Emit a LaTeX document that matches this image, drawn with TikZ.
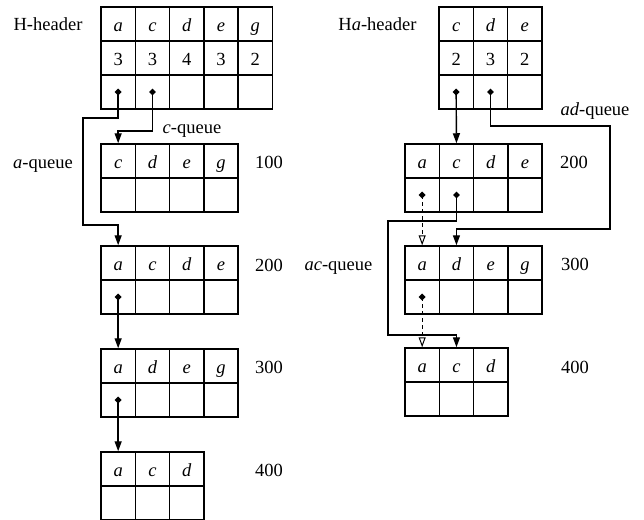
\documentclass[tikz,border=0pt]{standalone}
\usepackage{fontspec}
\setmainfont{Liberation Serif}
\usetikzlibrary{arrows.meta,shapes.geometric}
\newcommand\cellrow[4]{\foreach \celltext [count=\i] in {#4}{\node[cell] (#1-\i) at ({#2+(\i-0.5)*34.3},{#3+17}) {\celltext};}}
\begin{document}
\begin{tikzpicture}[x=1pt,y=-1pt,
  font=\fontsize{18.5}{22}\selectfont,
  cell/.style={draw,line width=1.5pt,rectangle,minimum width=34.3pt,minimum height=34pt,inner sep=0pt,text height=15.4pt,text depth=0pt},
  lbl/.style={anchor=base,inner sep=0pt},
  dot/.style={diamond,fill,inner sep=0pt,minimum size=7pt},
  conn/.style={line width=1.4pt,-{Triangle[width=7pt,length=10pt]}},
  dconn/.style={line width=1.3pt,dash pattern=on 4pt off 3pt,-{Triangle[open,width=7pt,length=10pt,line width=1pt]}}]
\useasboundingbox (0,0) rectangle (644,519);
% left side
\cellrow{hLa}{101}{7}{\textit{a},\textit{c},\textit{d},\textit{e},\textit{g}}
\cellrow{hLb}{101}{41}{3,3,4,3,2}
\cellrow{hLc}{101}{75}{{},{},{},{},{}}
\cellrow{lAa}{101}{144}{\textit{c},\textit{d},\textit{e},\textit{g}}
\cellrow{lAb}{101}{178}{{},{},{},{}}
\cellrow{lBa}{101}{246}{\textit{a},\textit{c},\textit{d},\textit{e}}
\cellrow{lBb}{101}{280}{{},{},{},{}}
\cellrow{lCa}{101}{349}{\textit{a},\textit{d},\textit{e},\textit{g}}
\cellrow{lCb}{101}{383}{{},{},{},{}}
\cellrow{lDa}{101}{452}{\textit{a},\textit{c},\textit{d}}
\cellrow{lDb}{101}{486}{{},{},{}}
% right side
\cellrow{hRa}{439}{7}{\textit{c},\textit{d},\textit{e}}
\cellrow{hRb}{439}{41}{2,3,2}
\cellrow{hRc}{439}{75}{{},{},{}}
\cellrow{rAa}{405}{144}{\textit{a},\textit{c},\textit{d},\textit{e}}
\cellrow{rAb}{405}{178}{{},{},{},{}}
\cellrow{rBa}{405}{246}{\textit{a},\textit{d},\textit{e},\textit{g}}
\cellrow{rBb}{405}{280}{{},{},{},{}}
\cellrow{rCa}{405}{348}{\textit{a},\textit{c},\textit{d}}
\cellrow{rCb}{405}{382}{{},{},{}}
% dots
\node[dot] (d1) at (hLc-1) {};
\node[dot] (d2) at (hLc-2) {};
\node[dot] (d3) at (lBb-1) {};
\node[dot] (d4) at (lCb-1) {};
\node[dot] (d5) at (hRc-1) {};
\node[dot] (d6) at (hRc-2) {};
\node[dot] (d7) at (rAb-1) {};
\node[dot] (d8) at (rAb-2) {};
\node[dot] (d9) at (rBb-1) {};
% bend points
\coordinate (a2) at (83,118);
\coordinate (a3) at (83,225);
\coordinate (c1) at (0,131);
\coordinate (e1) at (610,126);
\coordinate (e2) at (610,229);
\coordinate (f1) at (388,221);
\coordinate (f2) at (388,335);
% connectors
\draw[conn] (d1.center) -- (d1 |- a2) -- (a2) -- (a3) -- (a3 -| lBa-1) -- (lBa-1.north);
\draw[conn] (d2.center) -- (d2 |- c1) -- (c1 -| lAa-1) -- (lAa-1.north);
\draw[conn] (d3.center) -- (lCa-1.north);
\draw[conn] (d4.center) -- (lDa-1.north);
\draw[conn] (d5.center) -- (rAa-2.north);
\draw[conn] (d6.center) -- (d6 |- e1) -- (e1) -- (e2) -- (e2 -| rBa-2) -- (rBa-2.north);
\draw[dconn] (d7.center) -- (rBa-1.north);
\draw[conn] (d8.center) -- (d8 |- f1) -- (f1) -- (f2) -- (f2 -| rCa-2) -- (rCa-2.north);
\draw[dconn] (d9.center) -- (rCa-1.north);
% labels
\node[lbl] (tH) at (48,30.7) {H-header};
\node[lbl] (tCq) at (192,133) {\textit{c}-queue};
\node[lbl] (tAq) at (43,168) {\textit{a}-queue};
\node[lbl] (n100) at (269,168) {100};
\node[lbl] (n200) at (269,271.5) {200};
\node[lbl] (n300) at (269,373) {300};
\node[lbl] (n400) at (269,476) {400};
\node[lbl] (tHa) at (377.5,30.7) {H\textit{a}-header};
\node[lbl] (tAd) at (595,115) {\textit{ad}-queue};
\node[lbl] (m200) at (574,168) {200};
\node[lbl] (tAc) at (338.5,270) {\textit{ac}-queue};
\node[lbl] (m300) at (575,270.5) {300};
\node[lbl] (m400) at (575,373) {400};
\end{tikzpicture}
\end{document}
